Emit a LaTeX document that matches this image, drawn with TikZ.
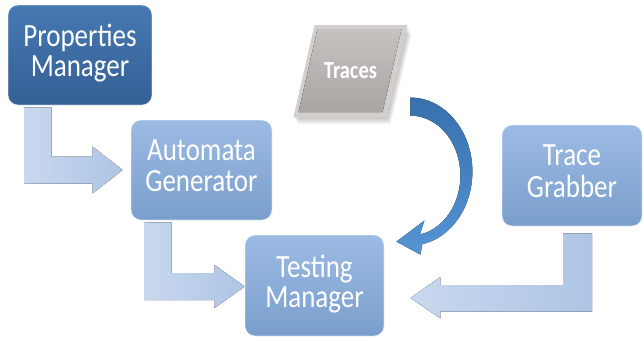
\documentclass[tikz,border=0pt]{standalone}
\usepackage{fontspec}
\setmainfont{Carlito}
\usetikzlibrary{calc,backgrounds}
\definecolor{pmtop}{RGB}{70,120,178}
\definecolor{pmbot}{RGB}{52,96,148}
\definecolor{lbtop}{RGB}{156,187,227}
\definecolor{lbbot}{RGB}{122,158,204}
\definecolor{baL}{RGB}{200,216,238}
\definecolor{baR}{RGB}{174,197,229}
\definecolor{catop}{RGB}{56,112,172}
\definecolor{cabot}{RGB}{86,148,212}
\definecolor{grtop}{RGB}{198,194,192}
\definecolor{grbot}{RGB}{170,165,163}
\definecolor{gredge}{RGB}{210,207,205}
\newcommand{\boxtext}[2]{\scalebox{1}[1.2]{\begin{tabular}{@{}c@{}}#1\\#2\end{tabular}}}
\tikzset{
  procbox/.style={rectangle, rounded corners=10pt, inner sep=0pt,
    draw=white, draw opacity=0.55, line width=0.8pt, text=white,
    font=\fontsize{27}{25}\selectfont},
  darkbox/.style={procbox, top color=pmtop, bottom color=pmbot},
  lightbox/.style={procbox, top color=lbtop, bottom color=lbbot},
  blockarrow/.style={left color=baL, right color=baR},
  curvearrow/.style={top color=catop, bottom color=cabot},
  shadowfill/.style={fill=gray, fill opacity=0.08}
}
\begin{document}
\begin{tikzpicture}[x=1pt,y=-1pt]
\useasboundingbox (0,0) rectangle (644,340);
% boxes
\node[darkbox, minimum width=144, minimum height=100] (pm) at (80,55) {\boxtext{Properties}{Manager}};
\node[lightbox, minimum width=141, minimum height=100] (ag) at (201.5,170) {\boxtext{Automata}{Generator}};
\node[lightbox, minimum width=139, minimum height=101] (tm) at (314.5,285.5) {\boxtext{Testing}{Manager}};
\node[lightbox, minimum width=140, minimum height=101] (tg) at (572,175.5) {\boxtext{Trace}{Grabber}};
% traces parallelogram with soft shadow
\coordinate (trc) at (350.5,71);
\foreach \d in {1,2,...,7} {
  \fill[shadowfill] ($(trc)+(-36+\d*0.6,-44+\d)$) -- ($(trc)+(57+\d*0.6,-44+\d)$) -- ($(trc)+(36+\d*0.6,46+\d)$) -- ($(trc)+(-57+\d*0.6,46+\d)$) -- cycle;
}
\fill[gredge] ($(trc)+(-36,-46)$) -- ($(trc)+(57,-46)$) -- ($(trc)+(36,46)$) -- ($(trc)+(-57,46)$) -- cycle;
\fill[top color=grtop, bottom color=grbot] ($(trc)+(-33,-42)$) -- ($(trc)+(51,-42)$) -- ($(trc)+(32,41)$) -- ($(trc)+(-52,41)$) -- cycle;
\node[text=white, font=\bfseries\fontsize{20.5}{24}\selectfont, inner sep=0pt] (tr) at (trc) {\scalebox{1}[1.2]{Traces}};
% block arrows
\begin{scope}[on background layer]
\coordinate (a1s) at ($(pm.south west)+(17,2)$);
\coordinate (a1t) at ($(ag.west)+(-8,0)$);
\fill[blockarrow] (a1s) -- ++(27,0) |- ($(a1t)+(-30,-13.5)$) -- ++(0,-10) -- (a1t)
  -- ++(-30,23.5) -- ++(0,-10) -| (a1s) -- cycle;
\coordinate (a2s) at ($(ag.south west)+(14,2)$);
\coordinate (a2t) at ($(tm.west)+(0,1)$);
\fill[blockarrow] (a2s) -- ++(27,0) |- ($(a2t)+(-30,-13.5)$) -- ++(0,-8) -- (a2t)
  -- ++(-30,21.5) -- ++(0,-8) -| (a2s) -- cycle;
\coordinate (a3s) at ($(tg.south)+(-9,7)$);
\coordinate (a3t) at ($(tm.east)+(26,12.5)$);
\fill[blockarrow] (a3s) -- ++(29,0) |- ($(a3t)+(30,13.5)$) -- ++(0,7) -- (a3t)
  -- ++(30,-21) -- ++(0,8) -| (a3s) -- cycle;
\end{scope}
% curved arrow from Traces to Testing Manager
\coordinate (cc) at ($(tm.north east)+(26,-63)$);
\fill[curvearrow] ($(cc)+(0,-74)$) arc[start angle=-90, end angle=79, x radius=62, y radius=74]
  -- ($(cc)+(10,83)$) -- ($(tm.north east)+(12,7)$) -- ($(cc)+(14,49)$)
  -- ($(cc)+(9.54,62.9)$) arc[start angle=79, end angle=-90, x radius=50, y radius=60] -- cycle;
\end{tikzpicture}
\end{document}
